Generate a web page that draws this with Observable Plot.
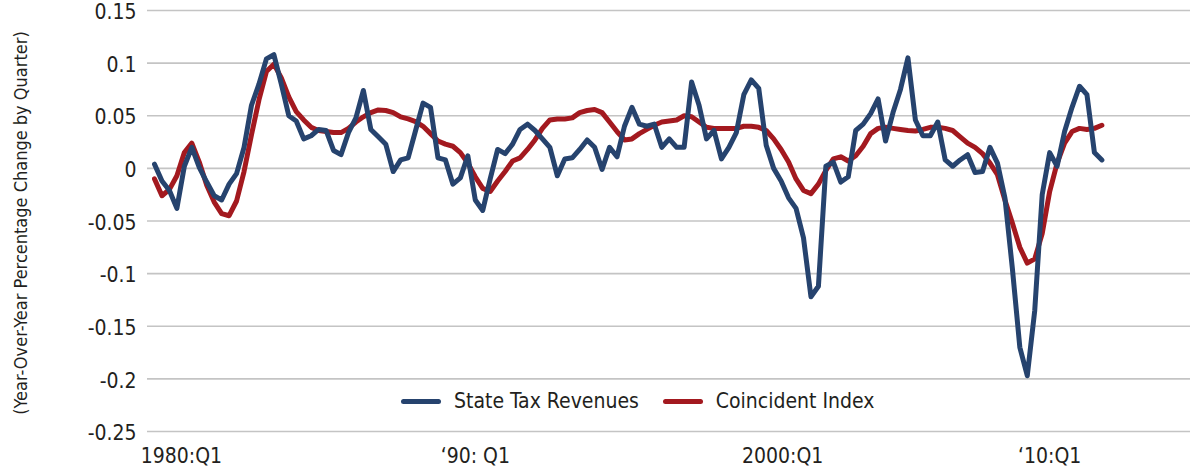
<!DOCTYPE html>
<html>
<head>
<meta charset="utf-8">
<script src="https://cdn.jsdelivr.net/npm/d3@7"></script>
<script src="https://cdn.jsdelivr.net/npm/@observablehq/plot@0.6"></script>
<style>
  html, body { margin: 0; padding: 0; background: #ffffff; }
  #wrap { position: relative; width: 1191px; height: 471px; font-family: "DejaVu Sans", sans-serif; font-stretch: condensed; color: #231f20; }
  #wrap svg, #wrap svg text { font-stretch: condensed; }
  #legend { position: absolute; left: 401px; top: 389px; display: flex; align-items: center; font-size: 21px; white-space: nowrap; }
  .sw { display: inline-block; width: 40px; height: 5px; border-radius: 3px; margin-right: 13px; }
  .item { display: flex; align-items: center; margin-right: 24px; }
</style>
</head>
<body>
<div id="wrap"><div id="chart"></div><div id="legend"></div></div>
<script>
// First quarter of the series: 1980:Q1, one value per quarter
const startYear = 1980;
const seriesNames = ["State Tax Revenues", "Coincident Index"];
const seriesColors = ["#26436e", "#a3191f"];

const stateTaxRevenues = [
  0.004, -0.012, -0.021, -0.038, 0.002, 0.020, 0.001, -0.013, -0.026, -0.030,
  -0.015, -0.005, 0.020, 0.060, 0.080, 0.104, 0.108, 0.080, 0.050, 0.045,
  0.028, 0.031, 0.037, 0.036, 0.017, 0.013, 0.034, 0.048, 0.074, 0.037,
  0.030, 0.023, -0.003, 0.008, 0.010, 0.036, 0.062, 0.058, 0.010, 0.008,
  -0.015, -0.009, 0.012, -0.030, -0.040, -0.010, 0.018, 0.014, 0.023, 0.037,
  0.042, 0.036, 0.028, 0.020, -0.007, 0.009, 0.010, 0.018, 0.027, 0.020,
  -0.001, 0.020, 0.011, 0.040, 0.058, 0.042, 0.040, 0.042, 0.020, 0.028,
  0.020, 0.020, 0.082, 0.060, 0.028, 0.036, 0.009, 0.020, 0.034, 0.070,
  0.084, 0.076, 0.022, 0.000, -0.012, -0.028, -0.038, -0.066, -0.122, -0.112,
  0.002, 0.006, -0.013, -0.008, 0.036, 0.042, 0.052, 0.066, 0.026, 0.053,
  0.075, 0.105, 0.046, 0.031, 0.031, 0.044, 0.008, 0.002, 0.008, 0.013,
  -0.004, -0.003, 0.020, 0.005, -0.028, -0.095, -0.170, -0.197, -0.135, -0.025,
  0.015, 0.002, 0.035, 0.058, 0.078, 0.070, 0.015, 0.008
];

const coincidentIndex = [
  -0.010, -0.026, -0.020, -0.007, 0.015, 0.024, 0.006, -0.016, -0.032, -0.043,
  -0.045, -0.031, -0.003, 0.032, 0.065, 0.092, 0.099, 0.086, 0.068, 0.054,
  0.046, 0.039, 0.036, 0.035, 0.034, 0.034, 0.038, 0.044, 0.049, 0.053,
  0.0555, 0.055, 0.053, 0.049, 0.047, 0.0445, 0.040, 0.033, 0.026, 0.023,
  0.021, 0.015, 0.005, -0.008, -0.019, -0.022, -0.012, -0.003, 0.007, 0.010,
  0.018, 0.027, 0.038, 0.046, 0.047, 0.047, 0.048, 0.053, 0.055, 0.056,
  0.053, 0.044, 0.035, 0.027, 0.028, 0.033, 0.037, 0.041, 0.044, 0.045,
  0.046, 0.050, 0.049, 0.044, 0.039, 0.038, 0.038, 0.038, 0.038, 0.040,
  0.040, 0.039, 0.036, 0.028, 0.018, 0.006, -0.010, -0.021, -0.024, -0.015,
  -0.002, 0.009, 0.011, 0.007, 0.012, 0.021, 0.033, 0.038, 0.039, 0.038,
  0.037, 0.036, 0.0355, 0.037, 0.039, 0.039, 0.038, 0.036, 0.030, 0.024,
  0.020, 0.014, 0.005, -0.006, -0.030, -0.052, -0.075, -0.090, -0.086, -0.062,
  -0.022, 0.005, 0.024, 0.035, 0.038, 0.037, 0.038, 0.041
];

const yTickValues = [0.15, 0.1, 0.05, 0, -0.05, -0.1, -0.15, -0.2, -0.25];
const yTickLabels = ["0.15", "0.1", "0.05", "0", "-0.05", "-0.1", "-0.15", "-0.2", "-0.25"];
const xTickLabels = ["1980:Q1", "\u201890: Q1", "2000:Q1", "\u201810:Q1"];
const xTickPositions = [1980.9, 1990.75, 2001.05, 2010.0];
const yTitle = "(Year-Over-Year Percentage Change by Quarter)";

const rows = [];
[stateTaxRevenues, coincidentIndex].forEach((vals, s) => {
  vals.forEach((v, i) => rows.push({t: startYear + i / 4, v, series: seriesNames[s]}));
});

const chart = Plot.plot({
  width: 1191,
  height: 471,
  marginLeft: 147,
  marginRight: 1,
  marginTop: 10,
  marginBottom: 40,
  style: {fontFamily: '"DejaVu Sans", sans-serif', fontSize: "21px", color: "#231f20", background: "#ffffff"},
  x: {type: "linear", domain: [1979.765, 2014.72]},
  y: {domain: [-0.25, 0.15]},
  color: {domain: seriesNames, range: seriesColors},
  marks: [
    Plot.gridY(yTickValues, {stroke: "#c4c4c4", strokeOpacity: 1, strokeWidth: 1.6}),
    Plot.axisY(yTickValues, {tickSize: 0, tickPadding: 11, dy: 2, tickFormat: (d, i) => yTickLabels[i], label: null, fill: "#231f20"}),
    Plot.axisX(xTickPositions, {tickSize: 0, tickPadding: 17, tickFormat: (d, i) => xTickLabels[i], label: null, fill: "#231f20"}),
    Plot.text([yTitle], {frameAnchor: "left", textAnchor: "middle", rotate: -90, dx: -126, dy: 2, fontSize: 18, fill: "#231f20"}),
    Plot.line(rows.filter(d => d.series === seriesNames[1]), {x: "t", y: "v", stroke: "series", strokeWidth: 5, strokeLinejoin: "round", strokeLinecap: "round"}),
    Plot.line(rows.filter(d => d.series === seriesNames[0]), {x: "t", y: "v", stroke: "series", strokeWidth: 5, strokeLinejoin: "round", strokeLinecap: "round"})
  ]
});
document.getElementById("chart").appendChild(chart);

const legend = document.getElementById("legend");
seriesNames.forEach((name, i) => {
  const item = document.createElement("div");
  item.className = "item";
  const sw = document.createElement("span");
  sw.className = "sw";
  sw.style.background = seriesColors[i];
  item.appendChild(sw);
  item.appendChild(document.createTextNode(name));
  legend.appendChild(item);
});
</script>
</body>
</html>
